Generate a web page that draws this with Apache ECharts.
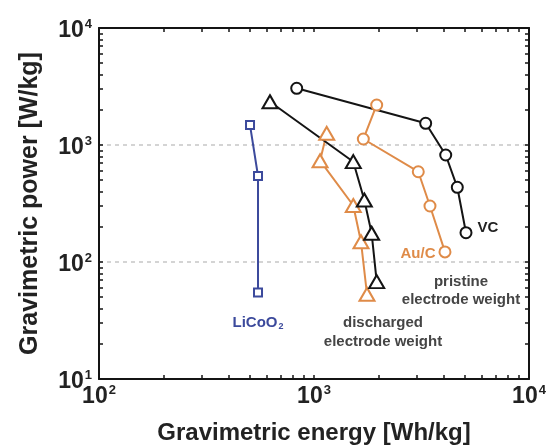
<!DOCTYPE html>
<html>
<head>
<meta charset="utf-8">
<script src="https://cdn.jsdelivr.net/npm/echarts@6/dist/echarts.min.js"></script>
<style>
  html, body { margin: 0; padding: 0; background: #fff; }
  #chart { width: 549px; height: 445px; }
</style>
</head>
<body>
<div id="chart"></div>
<script>
// Ragone plot: gravimetric energy vs power (log-log)
const licoEnergy = [504, 549, 549];
const licoPower  = [1480, 543, 55];

const aucEnergy = [1957, 1696, 3055, 3463, 4066];
const aucPower  = [2198, 1125, 591, 301, 122];

const aucDisEnergy = [1146, 1067, 1523, 1654, 1764];
const aucDisPower  = [1259, 734, 304, 149, 53];

const vcDisEnergy = [624, 1523, 1714, 1854, 1957];
const vcDisPower  = [2344, 720, 339, 176, 68];

const vcEnergy = [831, 3307, 4099, 4640, 5093];
const vcPower  = [3053, 1533, 821, 435, 178];

const xRange = [100, 10000];
const yRange = [10, 10000];

const BLACK = '#141414';
const ORANGE = '#df8b48';
const BLUE = '#3c4a9c';
const FONT = 'Liberation Sans';

function pairs(xs, ys) { return xs.map((x, i) => [x, ys[i]]); }

// 1..9 x 10^n tick positions across a log range
function logTicks(lo, hi) {
  const out = [];
  for (let d = lo; d < hi; d *= 10) {
    for (let k = 1; k <= 9; k++) out.push(k * d);
  }
  out.push(hi);
  return out;
}

const powRich = {
  b: { fontFamily: FONT, fontWeight: 'bold', fontSize: 23, color: '#222' },
  s: { fontFamily: FONT, fontWeight: 'bold', fontSize: 13, color: '#222', padding: [0, 0, 13, 1] }
};
const powFormatter = v => '{b|10}{s|' + Math.round(Math.log10(v)) + '}';

function tickStyle(vals) {
  return { show: true, inside: true, length: 4, customValues: vals,
           lineStyle: { color: BLACK, width: 1.5 } };
}

function lineSeries(name, xs, ys, symbol, size, color, labelOpt) {
  const data = pairs(xs, ys).map((p, i) => {
    const d = { value: p };
    if (labelOpt && i === xs.length - 1) d.label = labelOpt;
    return d;
  });
  return {
    name, type: 'line', data,
    symbol, symbolSize: size, showAllSymbol: true,
    lineStyle: { color, width: 2 },
    itemStyle: { color: '#fff', borderColor: color, borderWidth: 2 },
    label: { show: false },
    emphasis: { disabled: true },
    animation: false
  };
}

// dotted guide only at each decade (every 9th tick of the 1..9 sequence)
const decadeGridColors = ['#c6c6c6'].concat(new Array(8).fill('rgba(0,0,0,0)'));

const chart = echarts.init(document.getElementById('chart'), null, { renderer: 'canvas' });

const annoStyle = { fontFamily: FONT, fontWeight: 'bold', fontSize: 15, fill: '#454545',
                    textAlign: 'center', textVerticalAlign: 'top', lineHeight: 19 };

chart.setOption({
  backgroundColor: '#fff',
  grid: { left: 99, top: 28, right: 20, bottom: 66, containLabel: false, outerBoundsMode: 'none' },
  xAxis: [
    {
      type: 'log', logBase: 10, min: xRange[0], max: xRange[1], position: 'bottom',
      name: 'Gravimetric energy [Wh/kg]', nameLocation: 'middle', nameGap: 42,
      nameTextStyle: { fontFamily: FONT, fontWeight: 'bold', fontSize: 24, color: '#222' },
      axisLine: { show: true, lineStyle: { color: BLACK, width: 2 } },
      axisTick: tickStyle(logTicks(xRange[0], xRange[1])),
      axisLabel: { margin: 5, showMinLabel: true, showMaxLabel: true,
                   formatter: powFormatter, rich: powRich },
      splitLine: { show: false }, minorTick: { show: false }
    },
    {
      type: 'log', logBase: 10, min: xRange[0], max: xRange[1], position: 'top',
      axisLine: { show: true, lineStyle: { color: BLACK, width: 2 } },
      axisTick: tickStyle(logTicks(xRange[0], xRange[1])),
      axisLabel: { show: false }, splitLine: { show: false }
    }
  ],
  yAxis: [
    {
      type: 'log', logBase: 10, min: yRange[0], max: yRange[1], position: 'left',
      name: 'Gravimetric power [W/kg]', nameLocation: 'middle', nameGap: 56, nameRotate: 90,
      nameTextStyle: { fontFamily: FONT, fontWeight: 'bold', fontSize: 25, color: '#222' },
      axisLine: { show: true, lineStyle: { color: BLACK, width: 2 } },
      axisTick: tickStyle(logTicks(yRange[0], yRange[1])),
      axisLabel: { margin: 7, showMinLabel: true, showMaxLabel: true, padding: [6, 0, 0, 0],
                   formatter: powFormatter, rich: powRich },
      splitLine: { show: true, showMinLine: true, showMaxLine: true,
                   lineStyle: { color: decadeGridColors, width: 1.5, type: [4, 4] } }
    },
    {
      type: 'log', logBase: 10, min: yRange[0], max: yRange[1], position: 'right',
      axisLine: { show: true, lineStyle: { color: BLACK, width: 2 } },
      axisTick: tickStyle(logTicks(yRange[0], yRange[1])),
      axisLabel: { show: false }, splitLine: { show: false }
    }
  ],
  series: [
    lineSeries('LiCoO2', licoEnergy, licoPower, 'rect', 8, BLUE, {
      show: true, position: 'bottom', distance: 16,
      formatter: '{a|LiCoO}{b|2}',
      rich: {
        a: { fontFamily: FONT, fontWeight: 'bold', fontSize: 15, color: BLUE },
        b: { fontFamily: FONT, fontWeight: 'bold', fontSize: 9, color: BLUE, padding: [9, 0, 0, 1] }
      }
    }),
    lineSeries('Au/C', aucEnergy, aucPower, 'circle', 11, ORANGE, {
      show: true, position: 'left', distance: 3, offset: [0, 2], formatter: 'Au/C',
      fontFamily: FONT, fontWeight: 'bold', fontSize: 15, color: ORANGE
    }),
    lineSeries('Au/C discharged', aucDisEnergy, aucDisPower, 'triangle', [15, 13], ORANGE),
    lineSeries('VC discharged', vcDisEnergy, vcDisPower, 'triangle', [15, 13], BLACK),
    lineSeries('VC', vcEnergy, vcPower, 'circle', 11, BLACK, {
      show: true, position: 'right', distance: 5, offset: [0, -5], formatter: 'VC',
      fontFamily: FONT, fontWeight: 'bold', fontSize: 15, color: '#222'
    })
  ],
  graphic: [
    { type: 'text', x: 461, y: 273, silent: true,
      style: Object.assign({ text: 'pristine\nelectrode weight' }, annoStyle, { lineHeight: 18 }) },
    { type: 'text', x: 383, y: 313, silent: true,
      style: Object.assign({ text: 'discharged\nelectrode weight' }, annoStyle) }
  ]
});
</script>
</body>
</html>
